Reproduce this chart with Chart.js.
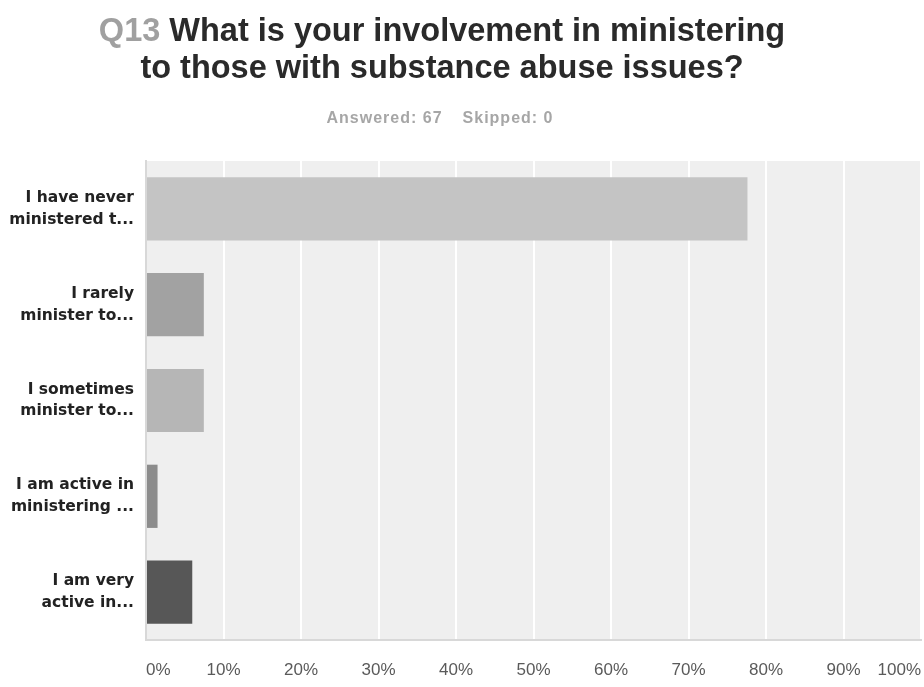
<!DOCTYPE html>
<html>
<head>
<meta charset="utf-8">
<script src="https://cdn.jsdelivr.net/npm/chart.js@4/dist/chart.umd.min.js"></script>
<style>
  html, body { margin: 0; padding: 0; background: #ffffff; }
  #wrap { position: relative; width: 924px; height: 687px; }
  #chart { position: absolute; left: 0; top: 0; }
  #title {
    position: absolute; left: 0; top: 12px; width: 884px;
    text-align: center; font: bold 32.5px "Liberation Sans", Arial, sans-serif;
    line-height: 37px; color: #2a2a2a;
  }
  #title .qnum { color: #a0a0a0; }
  #summary {
    position: absolute; left: 0; top: 108px; width: 880px;
    text-align: center; font: bold 16px "Liberation Sans", Arial, sans-serif;
    line-height: 20px; color: #a6a6a6; letter-spacing: 1px;
  }
  #summary span + span { margin-left: 20px; }
</style>
</head>
<body>
<div id="wrap">
  <canvas id="chart" width="924" height="687"></canvas>
  <div id="title"><span class="qnum">Q13</span> What is your involvement in ministering<br>to those with substance abuse issues?</div>
  <div id="summary"><span>Answered: 67</span><span>Skipped: 0</span></div>
</div>
<script>
// Answer choices (truncated as displayed), one array of lines per bar
const categories = [
  ["I have never", "ministered t..."],
  ["I rarely", "minister to..."],
  ["I sometimes", "minister to..."],
  ["I am active in", "ministering ..."],
  ["I am very", "active in..."]
];

// Share of respondents choosing each answer, in percent
const responsePercents = [77.61, 7.46, 7.46, 1.49, 5.97];

// One grey shade per answer
const barColors = ["#c4c4c4", "#a2a2a2", "#b6b6b6", "#8c8c8c", "#575757"];

// Percentage axis ticks
const tickValues = [0, 10, 20, 30, 40, 50, 60, 70, 80, 90, 100];

// Light grey panel behind the bars
const plotBackground = {
  id: "plotBackground",
  beforeDraw(chart) {
    const { ctx, chartArea: a } = chart;
    ctx.save();
    ctx.fillStyle = "#efefef";
    ctx.fillRect(a.left, a.top, a.right - a.left, a.bottom - a.top);
    ctx.restore();
  }
};

new Chart(document.getElementById("chart"), {
  type: "bar",
  data: {
    labels: categories,
    datasets: [{
      data: responsePercents,
      backgroundColor: barColors,
      borderColor: barColors,
      borderWidth: 0,
      categoryPercentage: 1,
      barPercentage: 0.66
    }]
  },
  options: {
    indexAxis: "y",
    responsive: false,
    animation: false,
    layout: { padding: { top: 161, right: 3, left: 0, bottom: 0 } },
    plugins: {
      legend: { display: false },
      tooltip: { enabled: false },
      title: { display: false }
    },
    scales: {
      x: {
        min: 0,
        max: 100,
        afterBuildTicks(scale) {
          scale.ticks = tickValues.map(v => ({ value: v }));
        },
        afterFit(scale) {
          scale.height = 47;
          scale.paddingLeft = 0;
          scale.paddingRight = 0;
        },
        grid: { color: "#ffffff", lineWidth: 2, drawTicks: false },
        border: { display: true, color: "#d8d8d8", width: 2 },
        ticks: {
          align: "inner",
          padding: 20,
          color: "#5a5a5a",
          font: { family: "'Liberation Sans', Arial, sans-serif", size: 17 },
          callback: v => v + "%"
        }
      },
      y: {
        afterFit(scale) { scale.width = 146; },
        grid: { display: false, drawTicks: false },
        border: { display: true, color: "#d8d8d8", width: 2 },
        ticks: {
          padding: 12,
          color: "#222222",
          font: { family: "'DejaVu Sans', Verdana, sans-serif", size: 15.5, weight: "bold", lineHeight: 1.4 }
        }
      }
    }
  },
  plugins: [plotBackground]
});
</script>
</body>
</html>
